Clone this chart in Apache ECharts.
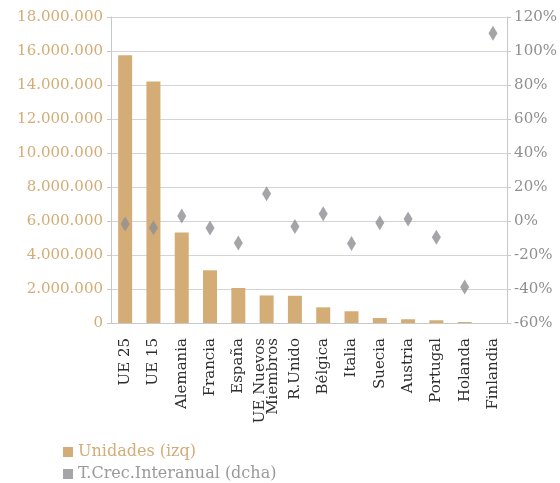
<!DOCTYPE html>
<html>
<head>
<meta charset="utf-8">
<script src="https://cdn.jsdelivr.net/npm/echarts@6/dist/echarts.min.js"></script>
<style>
  html, body { margin: 0; padding: 0; background: #fff; }
  #chart { width: 560px; height: 483px; }
</style>
</head>
<body>
<div id="chart"></div>
<script>
// categories and values
var categories = ["UE 25", "UE 15", "Alemania", "Francia", "España", "UE Nuevos\nMiembros",
  "R.Unido", "Bélgica", "Italia", "Suecia", "Austria", "Portugal", "Holanda", "Finlandia"];
var unidades = [15750000, 14200000, 5330000, 3100000, 2060000, 1620000,
  1600000, 920000, 690000, 290000, 220000, 160000, 60000, 0];
var crecimiento = [-1.8, -3.9, 2.9, -4.1, -13, 16, -3.3, 4.3, -13.3, -1, 1.2, -9.6, -38.8, 110.4];

var tan = "#d3ac76";
var grey = "#8e8f93";
var font = "DejaVu Serif";

function miles(v) {
  return String(v).replace(/\B(?=(\d{3})+(?!\d))/g, ".");
}

var chart = echarts.init(document.getElementById("chart"));
var option = {
  animation: false,
  textStyle: { fontFamily: font },
  grid: { left: 111, right: 51, top: 17, bottom: 160 },
  legend: [
    {
      left: 58,
      top: 439,
      itemWidth: 10,
      itemHeight: 10,
      icon: "rect",
      textStyle: { fontFamily: font, fontSize: 16, color: tan },
      data: ["Unidades (izq)"]
    },
    {
      left: 58,
      top: 461,
      itemWidth: 10,
      itemHeight: 10,
      icon: "rect",
      textStyle: { fontFamily: font, fontSize: 16, color: "#9a9a9c" },
      data: ["T.Crec.Interanual (dcha)"]
    }
  ],
  xAxis: {
    type: "category",
    data: categories,
    axisLine: { lineStyle: { color: "#c8c8c8" } },
    axisTick: { show: false },
    axisLabel: {
      rotate: 90,
      interval: 0,
      margin: 15,
      color: "#2e2e2e",
      fontFamily: font,
      fontSize: 15,
      lineHeight: 13
    }
  },
  yAxis: [
    {
      type: "value",
      min: 0,
      max: 18000000,
      interval: 2000000,
      axisLine: { show: true, lineStyle: { color: "#c8c8c8" } },
      axisTick: { show: true, length: 4, lineStyle: { color: "#c8c8c8" } },
      splitLine: { lineStyle: { color: "#d4d4d4" } },
      axisLabel: {
        color: tan,
        fontFamily: font,
        fontSize: 15,
        margin: 8,
        formatter: function (v) { return miles(v); }
      }
    },
    {
      type: "value",
      min: -60,
      max: 120,
      interval: 20,
      position: "right",
      axisLine: { show: true, lineStyle: { color: "#c8c8c8" } },
      axisTick: { show: true, length: 4, lineStyle: { color: "#c8c8c8" } },
      splitLine: { show: false },
      axisLabel: {
        color: "#8f8f92",
        fontFamily: font,
        fontSize: 15,
        margin: 7,
        formatter: "{value}%"
      }
    }
  ],
  series: [
    {
      name: "Unidades (izq)",
      type: "bar",
      barWidth: 14,
      itemStyle: { color: tan },
      data: unidades
    },
    {
      name: "T.Crec.Interanual (dcha)",
      type: "scatter",
      yAxisIndex: 1,
      symbol: "diamond",
      symbolSize: [9, 15],
      itemStyle: { color: grey },
      data: crecimiento
    }
  ]
};
chart.setOption(option);
</script>
</body>
</html>
